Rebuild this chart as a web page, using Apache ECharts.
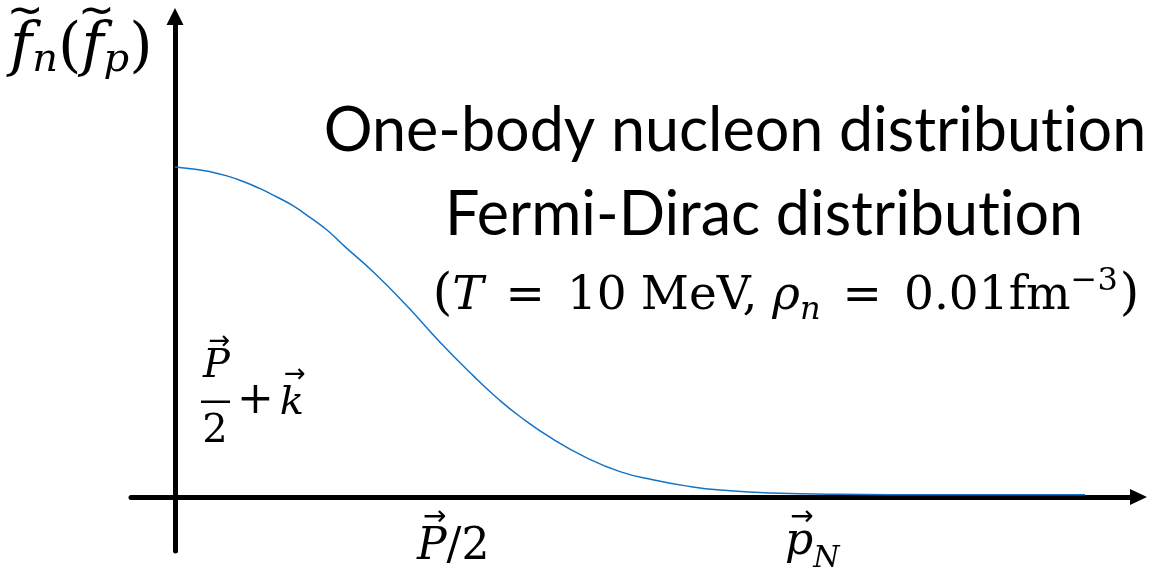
<!DOCTYPE html>
<html>
<head>
<meta charset="utf-8">
<script src="https://cdn.jsdelivr.net/npm/echarts@6/dist/echarts.min.js"></script>
<style>
  html, body { margin: 0; padding: 0; background: #ffffff; }
  #chart { width: 1159px; height: 574px; }
</style>
</head>
<body>
<div id="chart"></div>
<script>
// Nucleon momentum (arbitrary units, 0 at the vertical axis)
const momentum = [0, 2.0, 3.8, 5.7, 7.5, 9.3, 11.2, 13.0, 14.8, 16.7, 18.7, 21.8, 25.5, 29.1, 32.8, 35.4, 37.9,
                  41.5, 45.3, 48.9, 52.5, 56.3, 59.9, 65.4, 73.1, 84.1, 100];
// Occupation probability of the one-body state (1 at zero momentum)
const occupancy = [1.000, 0.994, 0.986, 0.973, 0.956, 0.935, 0.909, 0.882, 0.848, 0.809, 0.758, 0.682, 0.579, 0.470, 0.367, 0.300, 0.244,
                   0.176, 0.118, 0.077, 0.052, 0.033, 0.021, 0.012, 0.008, 0.007, 0.007];
// Visible extent of the two arrowed axes
const xExtent = [-4.835, 105.88];
const yExtent = [-0.1636, 1.456];

const SANS = 'Lato, "Open Sans", sans-serif';
const SERIF = '"DejaVu Serif", serif';
const SYMS = '"DejaVu Sans", sans-serif';

const measureCtx = document.createElement('canvas').getContext('2d');
function fontOf(p) {
  return (p.it ? 'italic ' : '') + p.size + 'px ' + (p.fam || SERIF);
}
function widthOf(t, font) {
  measureCtx.font = font;
  return measureCtx.measureText(t).width;
}

// Lays out a row of text runs on a common baseline (with sub/superscript shifts)
// and adds accents (tilde / vector arrow) above the runs that ask for one.
function mathRow(pieces, x, baseline, align) {
  const widths = pieces.map(p => widthOf(p.t, fontOf(p)));
  const total = pieces.reduce((s, p, i) => s + (p.gap || 0) + widths[i], 0);
  let cx = align === 'center' ? x - total / 2 : x;
  const out = [];
  pieces.forEach((p, i) => {
    cx += p.gap || 0;
    out.push({
      type: 'text', x: cx, y: baseline + (p.dy || 0) - 0.34 * p.size, z: 10,
      style: { text: p.t, font: fontOf(p), fill: '#000', align: 'left', verticalAlign: 'middle' }
    });
    if (p.accent) {
      out.push({
        type: 'text', x: cx + widths[i] / 2 + (p.ax || 0), y: baseline - p.rise, z: 10,
        style: { text: p.accent, font: p.asize + 'px ' + SYMS, fill: '#000', align: 'center', verticalAlign: 'middle' }
      });
    }
    cx += widths[i];
  });
  return out;
}

const texts = [];

// vertical axis title
texts.push(...mathRow([
  { t: 'f', size: 60, it: true, accent: '~', asize: 44, rise: 56, ax: 4 },
  { t: 'n', size: 40, it: true, dy: 4 },
  { t: '(', size: 60 },
  { t: 'f', size: 60, it: true, accent: '~', asize: 44, rise: 56, ax: 4 },
  { t: 'p', size: 40, it: true, dy: 4 },
  { t: ')', size: 60 }
], 10, 70, 'left'));

// horizontal axis marks
texts.push(...mathRow([
  { t: 'P', size: 44, it: true, accent: '→', asize: 28, rise: 45, ax: 3 },
  { t: '/', size: 44 },
  { t: '2', size: 44 }
], 417, 563, 'left'));
texts.push(...mathRow([
  { t: 'p', size: 44, it: true, accent: '→', asize: 28, rise: 40, ax: 3 },
  { t: 'N', size: 30, it: true, dy: 11 }
], 785, 558, 'left'));

// P/2 + k beside the curve
texts.push(...mathRow([{ t: 'P', size: 40, it: true, accent: '→', asize: 26, rise: 38, ax: 3 }], 215 - 12, 380, 'left'));
texts.push(...mathRow([{ t: '2', size: 40 }], 215, 445, 'center'));
texts.push(...mathRow([
  { t: '+', size: 44 },
  { t: 'k', size: 40, it: true, gap: 6, accent: '→', asize: 26, rise: 42, ax: 3 }
], 237, 417, 'left'));
texts.push({ type: 'rect', z: 10, shape: { x: 201, y: 400.5, width: 29, height: 2.5 }, style: { fill: '#000' } });

// annotation block ("ti" drawn in two runs so the font does not join them)
texts.push(...mathRow([
  { t: 'One-body nucleon distribut', size: 61, fam: SANS },
  { t: 'ion', size: 61, fam: SANS }
], 735, 152, 'center'));
texts.push(...mathRow([
  { t: 'Fermi-Dirac distribut', size: 61, fam: SANS },
  { t: 'ion', size: 61, fam: SANS }
], 764, 236, 'center'));
texts.push(...mathRow([
  { t: '(', size: 50 },
  { t: 'T', size: 47, it: true },
  { t: '=', size: 47, gap: 22 },
  { t: '10', size: 47, gap: 22 },
  { t: 'MeV,', size: 47, gap: 14 },
  { t: 'ρ', size: 47, it: true, gap: 15 },
  { t: 'n', size: 32, it: true, dy: 9 },
  { t: '=', size: 47, gap: 22 },
  { t: '0.01fm', size: 47, gap: 22 },
  { t: '−3', size: 32, dy: -20 },
  { t: ')', size: 50, gap: 2 }
], 786, 313, 'center'));

const chart = echarts.init(document.getElementById('chart'), null, { renderer: 'canvas' });
chart.setOption({
  animation: false,
  backgroundColor: '#ffffff',
  grid: { left: 131, right: 20.5, top: 16.5, bottom: 23, containLabel: false },
  xAxis: {
    type: 'value', min: xExtent[0], max: xExtent[1],
    axisLine: { onZero: true, symbol: ['none', 'triangle'], symbolSize: [16, 17], lineStyle: { color: '#000', width: 5 } },
    axisTick: { show: false }, axisLabel: { show: false }, splitLine: { show: false }
  },
  yAxis: {
    type: 'value', min: yExtent[0], max: yExtent[1],
    axisLine: { onZero: true, symbol: ['none', 'triangle'], symbolSize: [17, 17], lineStyle: { color: '#000', width: 5 } },
    axisTick: { show: false }, axisLabel: { show: false }, splitLine: { show: false }
  },
  series: [{
    type: 'line',
    data: momentum.map((p, i) => [p, occupancy[i]]),
    showSymbol: false,
    smooth: 0.5,
    z: 5,
    lineStyle: { color: '#1374c6', width: 1.5 }
  }],
  graphic: { elements: texts }
});
</script>
</body>
</html>
